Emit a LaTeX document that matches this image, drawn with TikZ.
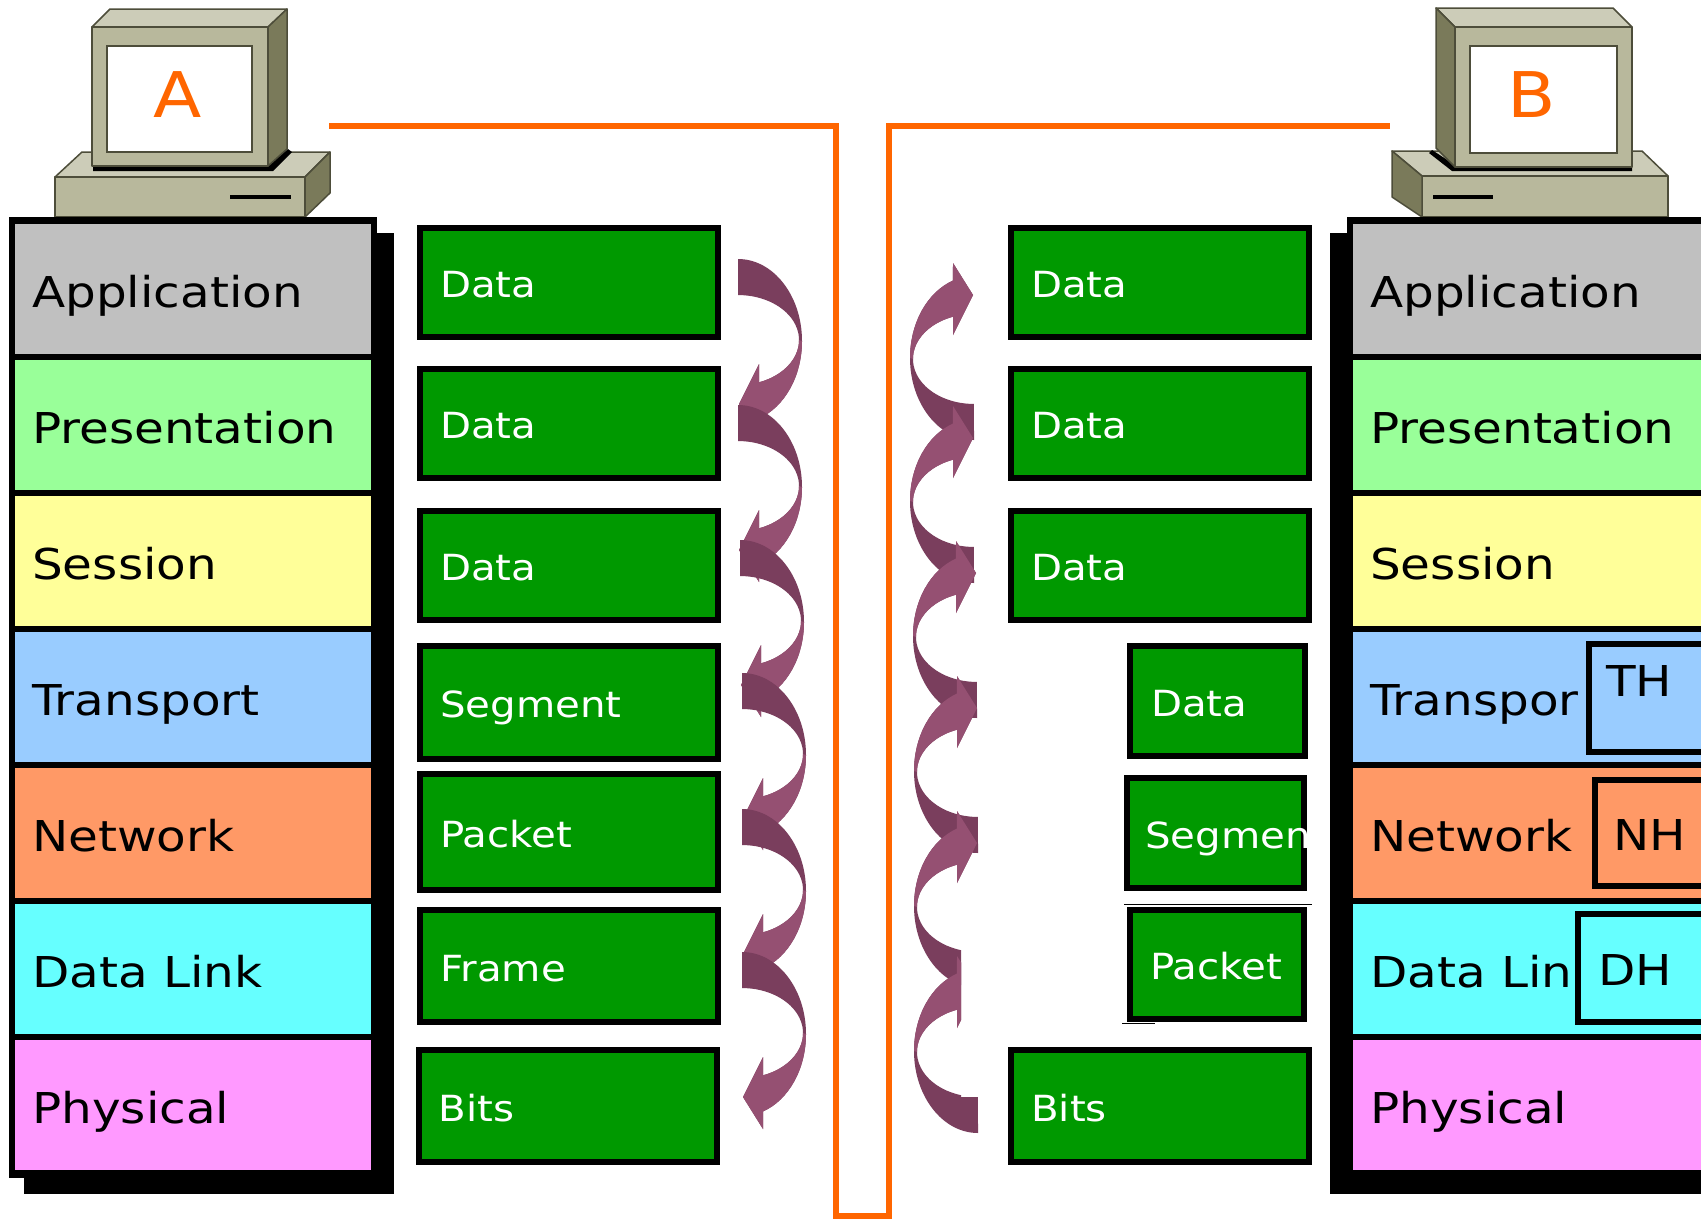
\documentclass[tikz,border=0pt]{standalone}
\usepackage{fontspec}
\setmainfont{DejaVu Sans}[FakeStretch=1.12]
\newfontfamily\layerfont{DejaVu Sans}[FakeStretch=1.14]
\usetikzlibrary{positioning, calc}

\definecolor{appcol}{HTML}{C0C0C0}
\definecolor{prescol}{HTML}{99FF99}
\definecolor{sesscol}{HTML}{FFFF99}
\definecolor{transcol}{HTML}{99CCFF}
\definecolor{netcol}{HTML}{FF9966}
\definecolor{linkcol}{HTML}{66FFFF}
\definecolor{physcol}{HTML}{FF99FF}
\definecolor{pdugreen}{HTML}{009900}
\definecolor{wire}{HTML}{FF6600}
\definecolor{curldark}{HTML}{7A3E5D}
\definecolor{curllight}{HTML}{955072}
\definecolor{pcfront}{HTML}{B8B89C}
\definecolor{pctop}{HTML}{CCCCB8}
\definecolor{pcside}{HTML}{7A7A5A}
\definecolor{pcedge}{HTML}{4D4D3A}

\tikzset{
    pics/curl/.style={code={ % twisted block arrow, tail at the origin
        \fill[curldark] (0,0) arc[start angle=-90, end angle=70.8, x radius=64, y radius=82]
            -- (21,177) -- (1,145) -- (21,105) -- (21,123.3)
            arc[start angle=69.9, end angle=-90, x radius=61, y radius=45] -- cycle;
        \fill[curllight] (64,82) arc[start angle=0, end angle=70.8, x radius=64, y radius=82]
            -- (21,177) -- (1,145) -- (21,105) -- (21,123.3)
            arc[start angle=69.9, end angle=0, x radius=61, y radius=45] -- cycle;
    }}
}

\begin{document}
\begin{tikzpicture}[
    x=1pt, y=-1pt, % y grows downwards
    % Styles
    osilayer/.style={ % layer name in a stack
        anchor=base west,
        inner sep=0pt,
        font=\layerfont\fontsize{42.5}{50}\selectfont
    },
    pdu/.style={ % green data unit
        rectangle,
        draw,
        line width=6pt,
        fill=pdugreen,
        inner sep=0pt,
        outer sep=0pt,
        minimum width=298,
        minimum height=109
    },
    pdutext/.style={ % white text of a data unit
        anchor=base west,
        inner sep=0pt,
        text=white,
        font=\fontsize{36}{42}\selectfont
    },
    hdrbox/.style={ % TH, NH, DH
        rectangle,
        draw,
        line width=6pt,
        anchor=north west,
        inner sep=0pt,
        outer sep=0pt,
        minimum width=200
    },
    pcface/.style={ % computer faces
        draw=pcedge,
        line width=1.5pt,
        line join=round
    },
    pcscreen/.style={
        rectangle,
        draw=pcedge,
        line width=1.5pt,
        fill=white,
        inner sep=0pt
    },
    pcname/.style={
        anchor=base,
        inner sep=0pt,
        text=wire,
        font=\fontsize{63}{70}\selectfont
    },
    cable/.style={
        draw=wire,
        line width=6pt
    }
]
    \clip (0,0) rectangle (1701,1219);
    \fill[white] (0,0) rectangle (1701,1219);

    % Computer A
    \filldraw[pcface, fill=pctop] (55,177) -- (82,152) -- (330,152) -- (305,177) -- cycle;
    \filldraw[pcface, fill=pcfront] (55,177) rectangle (305,217);
    \filldraw[pcface, fill=pcside] (305,177) -- (330,152) -- (330,193) -- (305,217) -- cycle;
    \draw[line width=4pt] (230,197) -- (291,197);
    \fill (93,164) -- (270,164) -- (288,149) -- (292,152) -- (273,171) -- (93,171) -- cycle;
    \filldraw[pcface, fill=pctop] (92,27) -- (110,9) -- (287,9) -- (268,27) -- cycle;
    \filldraw[pcface, fill=pcside] (268,27) -- (287,9) -- (287,149) -- (268,166) -- cycle;
    \filldraw[pcface, fill=pcfront] (92,27) rectangle (268,166);
    \node[pcscreen, minimum width=145, minimum height=106] (scrA) at (179.5,99) {};
    \node[pcname] (nameA) at (178,117) {A};

    % Computer B
    \filldraw[pcface, fill=pctop] (1422,176) -- (1392,151) -- (1642,151) -- (1668,176) -- cycle;
    \filldraw[pcface, fill=pcfront] (1422,176) rectangle (1668,217);
    \filldraw[pcface, fill=pcside] (1422,176) -- (1392,151) -- (1392,197) -- (1422,217) -- cycle;
    \draw[line width=4pt] (1433,197) -- (1493,197);
    \fill (1432,150) -- (1455,165) -- (1632,165) -- (1632,171) -- (1452,171) -- (1429,153) -- cycle;
    \filldraw[pcface, fill=pctop] (1436,8) -- (1613,8) -- (1632,27) -- (1455,27) -- cycle;
    \filldraw[pcface, fill=pcside] (1455,27) -- (1436,8) -- (1436,148) -- (1455,167) -- cycle;
    \filldraw[pcface, fill=pcfront] (1455,27) rectangle (1632,167);
    \node[pcscreen, minimum width=147, minimum height=107] (scrB) at (1543.5,99.5) {};
    \node[pcname] (nameB) at (1532,117) {B};

    % Cable between the two hosts
    \coordinate (portA) at (329,126);
    \coordinate (portB) at (1390,126);
    \draw[cable] (portA) -| (836,1216) -| (889,126) -- (portB);

    % Stacks: shadow and frame
    \fill (24,233) rectangle (394,1194);
    \fill (9,217) rectangle (377,1178);
    \fill (1330,233) rectangle (1720,1194);
    \fill (1347,217) rectangle (1720,1178);

    % Layers (host B shows the shortened names)
    \foreach \lname/\rname/\lcol [count=\i from 0] in {Application/Application/appcol,
            Presentation/Presentation/prescol, Session/Session/sesscol, Transport/Transpor/transcol,
            Network/Network/netcol, Data Link/Data Link/linkcol, Physical/Physical/physcol} {
        \fill[\lcol] (15,{224+136*\i}) rectangle (371,{354+136*\i});
        \node[osilayer] (A\i) at (32,{307+136*\i}) {\lname};
        \fill[\lcol] (1353,{224+136*\i}) rectangle (1720,{354+136*\i});
        \node[osilayer] (B\i) at (1370,{307+136*\i}) {\rname};
    }

    % Headers on host B
    \node[hdrbox, fill=transcol, minimum height=108] (TH) at (1589,644) {};
    \node[osilayer] (TH-txt) at (1606,696) {TH};
    \node[hdrbox, fill=netcol, minimum height=106] (NH) at (1595,780) {};
    \node[osilayer] (NH-txt) at (1613,850) {NH};
    \node[hdrbox, fill=linkcol, minimum height=108] (DH) at (1578,914) {};
    \node[osilayer] (DH-txt) at (1598,985) {DH};

    % Data units on host A
    \foreach \txt/\yc/\h [count=\k] in {Data/282.5/109, Data/423.5/109, Data/565.5/109,
            Segment/702.5/113, Packet/832/116, Frame/966/112} {
        \node[pdu, minimum height=\h] (L\k) at (569,\yc) {};
        \node[pdutext] (L\k-txt) at ($(L\k.west)+(20,15)$) {\txt};
    }
    \node[pdu, minimum height=112] (L7) at (567.5,1106) {};
    \node[pdutext] (L7-txt) at ($(L7.west)+(20,15)$) {Bits};

    % Data units on host B
    \foreach \yc [count=\k] in {282.5, 423.5, 565.5} {
        \node[pdu] (R\k) at (1160,\yc) {};
        \node[pdutext] (R\k-txt) at ($(R\k.west)+(20,15)$) {Data};
    }
    \node[pdu, minimum width=175, minimum height=110] (R4) at (1217.5,701) {};
    \node[pdutext] (R4-txt) at ($(R4.west)+(21,15)$) {Data};
    \node[pdu, minimum width=177, minimum height=110] (R5) at (1215.5,833) {};
    \begin{scope}
        \clip (1100,770) rectangle (1308,900);
        \node[pdutext] (R5-txt) at ($(R5.west)+(18,15)$) {Segment};
    \end{scope}
    \draw[line width=1pt] (1124,904) -- (1312,904);
    \node[pdu, minimum width=174, minimum height=109] (R6) at (1217,964.5) {};
    \node[pdutext] (R6-txt) at ($(R6.west)+(20,15)$) {Packet};
    \draw[line width=1pt] (1122,1023) -- (1155,1023);
    \node[pdu, minimum height=112] (R7) at (1160,1106) {};
    \node[pdutext] (R7-txt) at ($(R7.west)+(20,15)$) {Bits};

    % Going down on host A
    \foreach \cx/\cy in {738/259, 738/405, 740/540, 742/673, 742/809, 742/952}
        \pic at (\cx,\cy) {curl};

    % Going up on host B
    \begin{scope}
        \clip (850,200) rectangle (1000,940) (850,940) rectangle (961,1097)
            (850,1097) rectangle (1000,1219);
        \foreach \cx/\cy in {974/440, 974/583, 977/718, 978/853, 978/988, 978/1133}
            \pic[rotate=180] at (\cx,\cy) {curl};
    \end{scope}
\end{tikzpicture}
\end{document}
